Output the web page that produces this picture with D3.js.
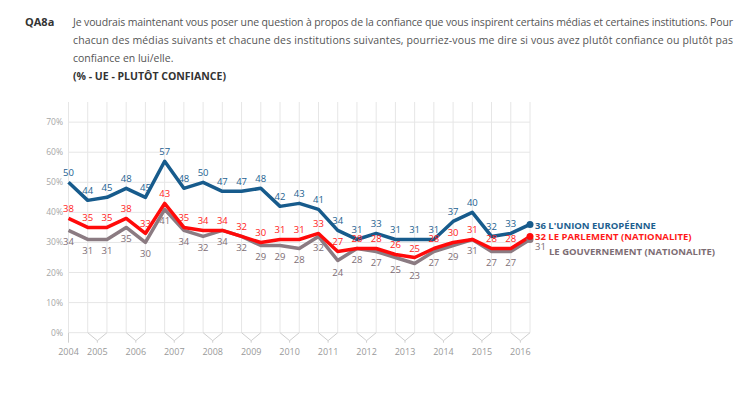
<!DOCTYPE html>
<html>
<head>
<meta charset="utf-8">
<script src="https://cdn.jsdelivr.net/npm/d3@7"></script>
<style>
  body { margin: 0; background: #fff; }
  svg { display: block; font-family: "Open Sans", "Noto Sans", sans-serif; }
</style>
</head>
<body>
<svg id="chart" width="754" height="399"></svg>
<script>
// Données (Eurobaromètre, 2 vagues par an)
const annees = ["2004", "2005", "2006", "2007", "2008", "2009", "2010", "2011", "2012", "2013", "2014", "2015", "2016"];
const ue = [50, 44, 45, 48, 45, 57, 48, 50, 47, 47, 48, 42, 43, 41, 34, 31, 33, 31, 31, 31, 37, 40, 32, 33, 36];
const parlement = [38, 35, 35, 38, 33, 43, 35, 34, 34, 32, 30, 31, 31, 33, 27, 28, 28, 26, 25, 28, 30, 31, 28, 28, 32];
const gouvernement = [34, 31, 31, 35, 30, 41, 34, 32, 34, 32, 29, 29, 28, 32, 24, 28, 27, 25, 23, 27, 29, 31, 27, 27, 31];
const ticksY = [0, 10, 20, 30, 40, 50, 60, 70];

const series = [
    { nom: "LE GOUVERNEMENT (NATIONALITE)", valeurs: gouvernement, couleur: "#8b7b82", texte: "#7d6d74", dessous: true },
    { nom: "LE PARLEMENT (NATIONALITE)", valeurs: parlement, couleur: "#ff0a0a", texte: "#ff1a1a", dessous: false },
    { nom: "L'UNION EUROPÉENNE", valeurs: ue, couleur: "#175b8c", texte: "#1d5f90", dessous: false }
];

const svg = d3.select("#chart");

// En-tête
const gris = "#555";
svg.append("text").attr("x", 25).attr("y", 26)
    .attr("font-size", 11).attr("font-weight", 700).attr("fill", "#333")
    .text("QA8a");
const lignes = [
    { t: "Je voudrais maintenant vous poser une question à propos de la confiance que vous inspirent certains médias et certaines institutions. Pour", j: true },
    { t: "chacun des médias suivants et chacune des institutions suivantes, pourriez-vous me dire si vous avez plutôt confiance ou plutôt pas", j: true },
    { t: "confiance en lui/elle.", j: false }
];
lignes.forEach((l, i) => {
    let t = svg.append("text").attr("x", 73).attr("y", 26 + i * 18)
        .attr("font-size", 10.5).attr("fill", gris).text(l.t);
    if (l.j) t.attr("textLength", 660).attr("lengthAdjust", "spacing");
});
svg.append("text").attr("x", 73).attr("y", 80)
    .attr("font-size", 10.5).attr("font-weight", 700).attr("fill", "#333")
    .text("(% - UE - PLUTÔT CONFIANCE)");

// Échelles
const x = d3.scaleLinear().domain([0, ue.length - 1]).range([68.5, 530]);
const y = d3.scaleLinear().domain([0, 76.7]).range([332.7, 102]);
const y0 = y(0);

// Grille
const grille = svg.append("g").attr("stroke", "#e6e6e6").attr("stroke-width", 1);
d3.range(ue.length).forEach(i => {
    grille.append("line")
        .attr("x1", x(i)).attr("x2", x(i))
        .attr("y1", y.range()[1]).attr("y2", y0);
});
ticksY.forEach(v => {
    grille.append("line")
        .attr("x1", x(0)).attr("x2", x(ue.length - 1))
        .attr("y1", y(v)).attr("y2", y(v));
});
svg.append("g").selectAll("text").data(ticksY).join("text")
    .attr("x", 63).attr("y", d => y(d) + 3)
    .attr("text-anchor", "end").attr("font-size", 8.5).attr("fill", "#a6a6a6")
    .text(d => d + "%");

// Axe des années (chevrons)
const axe = svg.append("g").attr("stroke", "#cfcfcf").attr("fill", "none").attr("stroke-width", 1);
axe.append("line").attr("x1", x(0)).attr("x2", x(0)).attr("y1", y0).attr("y2", y0 + 10);
annees.forEach((a, k) => {
    let milieu = k == 0 ? x(0) : (x(2 * k - 1) + x(2 * k)) / 2;
    if (k > 0) {
        axe.append("path")
            .attr("d", `M${x(2 * k - 1)},${y0} L${milieu},${y0 + 8} L${x(2 * k)},${y0} M${milieu},${y0 + 8} L${milieu},${y0 + 10}`);
    }
    svg.append("text").attr("x", milieu).attr("y", y0 + 22)
        .attr("text-anchor", "middle").attr("font-size", 9).attr("fill", "#999")
        .text(a);
});

// Courbes
const ligne = d3.line().x((d, i) => x(i)).y(d => y(d));
series.forEach(s => {
    svg.append("path")
        .datum(s.valeurs)
        .attr("fill", "none")
        .attr("stroke", s.couleur)
        .attr("stroke-width", 3.5)
        .attr("stroke-linejoin", "round")
        .attr("d", ligne);
});

// Étiquettes des valeurs
series.forEach(s => {
    svg.append("g").selectAll("text").data(s.valeurs.slice(0, -1)).join("text")
        .attr("x", (d, i) => x(i))
        .attr("y", d => s.dessous ? y(d) + 15 : y(d) - 6)
        .attr("text-anchor", "middle")
        .attr("font-size", 9.5)
        .attr("fill", s.texte)
        .text(d => d);
});

// Points finaux et légende
const n = ue.length - 1;
series.forEach(s => {
    svg.append("circle").attr("cx", x(n)).attr("cy", y(s.valeurs[n])).attr("r", 3.5).attr("fill", s.couleur);
});
svg.append("text").attr("x", 535).attr("y", 229)
    .attr("font-size", 9.5).attr("font-weight", 700).attr("fill", "#1d5f90")
    .text(ue[n] + " " + series[2].nom);
svg.append("text").attr("x", 535).attr("y", 240)
    .attr("font-size", 9.5).attr("font-weight", 700).attr("fill", "#ff1a1a")
    .text(parlement[n] + " " + series[1].nom);
svg.append("text").attr("x", 535).attr("y", 249.5)
    .attr("font-size", 9.5).attr("fill", "#7d6d74")
    .text(gouvernement[n]);
svg.append("text").attr("x", 549).attr("y", 255)
    .attr("font-size", 9.5).attr("font-weight", 700).attr("fill", "#7d6d74")
    .text(series[0].nom);
</script>
</body>
</html>
